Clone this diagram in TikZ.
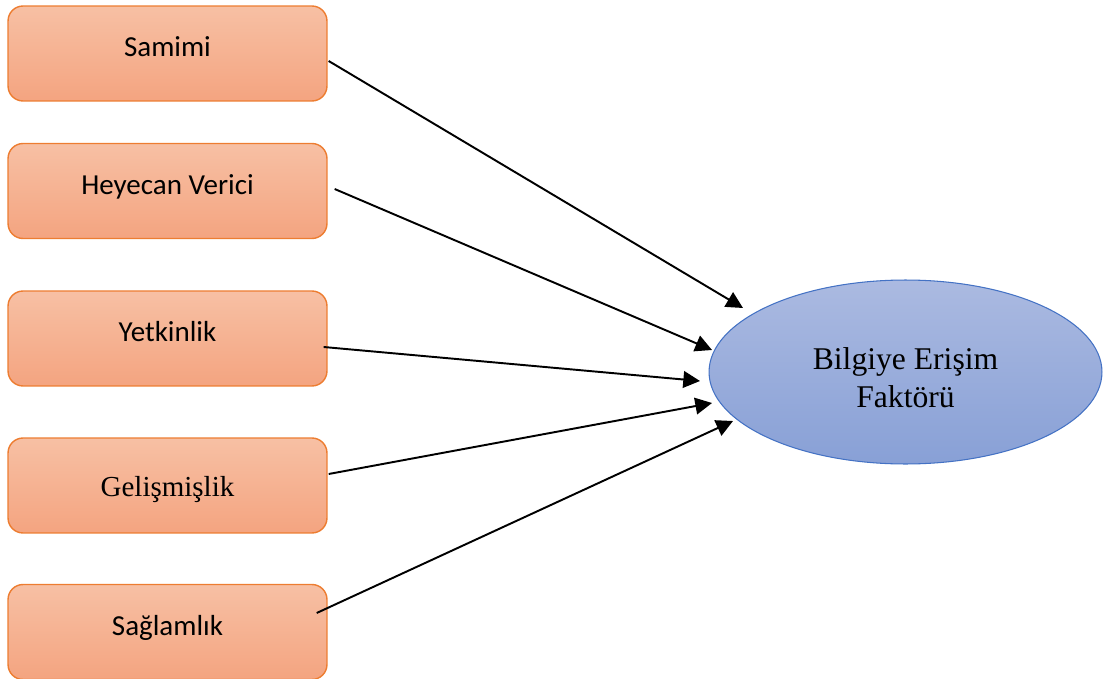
\documentclass[tikz,border=0pt]{standalone}
\usepackage{fontspec}
\setmainfont{Liberation Serif}
\newfontfamily\boxfont{Carlito}
\usepackage{tikz}
\usetikzlibrary{arrows.meta,shapes.geometric}

\definecolor{boxtop}{RGB}{247,192,164}
\definecolor{boxbottom}{RGB}{244,164,128}
\definecolor{boxline}{RGB}{237,125,49}
\definecolor{elltop}{RGB}{171,186,225}
\definecolor{ellbottom}{RGB}{136,160,214}
\definecolor{ellline}{RGB}{68,114,196}

\begin{document}
\begin{tikzpicture}[x=0.02cm,y=-0.02cm,
                    factor node/.style={rectangle,rounded corners=0.3cm,draw=boxline,line width=0.8pt,
                      top color=boxtop,bottom color=boxbottom,minimum width=6.38cm,minimum height=1.9cm,
                      inner sep=0pt,text height=12pt,text depth=8.4pt,font=\boxfont\fontsize{16.5}{20}\selectfont},
                    target node/.style={ellipse,draw=ellline,line width=0.6pt,top color=elltop,
                      bottom color=ellbottom,minimum width=7.86cm,minimum height=3.68cm,inner sep=0pt,
                      align=center,font=\fontsize{18}{22}\selectfont}]
  \useasboundingbox (0,0) rectangle (1105,679);
  %factors%
  \node[factor node] (sam) at (167.5,53.5) {Samimi};
  \node[factor node] (hey) at (167.5,191) {Heyecan Verici};
  \node[factor node] (yet) at (167.5,338.5) {Yetkinlik};
  \node[factor node,text height=12.6pt,text depth=0pt,font=\fontsize{16.5}{20}\selectfont] (gel) at (167.5,485.5) {Gelişmişlik};
  \node[factor node] (sag) at (167.5,632) {Sağlamlık};
  \node[target node,text height=40.8pt,text depth=0pt] (bef) at (905.5,372) {Bilgiye Erişim\\Faktörü};

  \coordinate (t1) at (743,308);
  \coordinate (t2) at (712,350);
  \coordinate (t3) at (700,381);
  \coordinate (t4) at (712,403);
  \coordinate (t5) at (733,421);

  \path[-{Triangle[length=9.5pt,width=9.5pt]},line width=1.1pt]
    ([shift={(1,7.5)}]sam.east) edge (t1)
    ([shift={(7,-2)}]hey.east) edge (t2)
    ([shift={(-4,8.5)}]yet.east) edge (t3)
    ([shift={(1,-11.5)}]gel.east) edge (t4)
    ([shift={(-11,-19)}]sag.east) edge (t5);
\end{tikzpicture}
\end{document}
